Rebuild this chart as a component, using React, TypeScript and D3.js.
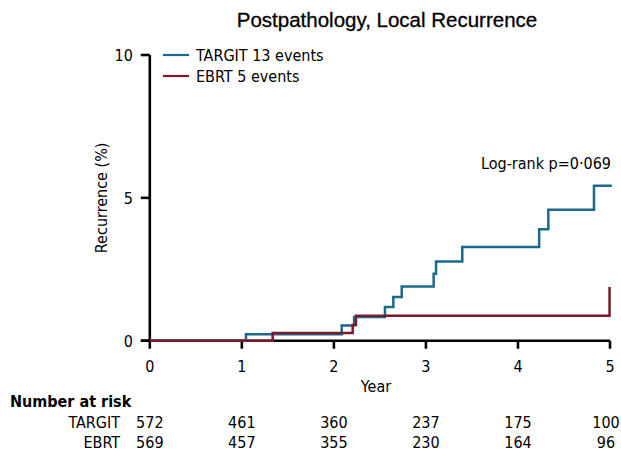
import React from "react";
import * as d3 from "d3";

// Kaplan-Meier steps (year, cumulative recurrence %)
const targitTimes = [0, 1.045, 2.085, 2.22, 2.555, 2.646, 2.737, 3.084, 3.11, 3.395, 4.23, 4.33, 4.826, 5.02];
const targitValues = [0, 0.23, 0.53, 0.83, 1.18, 1.53, 1.9, 2.34, 2.77, 3.28, 3.9, 4.58, 5.42, 5.42];
const ebrtTimes = [0, 1.335, 2.204, 2.24, 4.995];
const ebrtValues = [0, 0.27, 0.55, 0.87, 1.88];

const xTicks = [0, 1, 2, 3, 4, 5];
const yTicks = [0, 5, 10];
const riskTargit = [572, 461, 360, 237, 175, 100];
const riskEbrt = [569, 457, 355, 230, 164, 96];

const legendItems = [
  { label: "TARGIT 13 events", color: "#1b6a8e" },
  { label: "EBRT 5 events", color: "#7a1b2b" },
];

const narrow = "'DejaVu Sans Condensed', 'DejaVu Sans', sans-serif";

export default function App() {
  const width = 621,
    height = 451;
  const x = d3.scaleLinear().domain([0, 5]).range([149.8, 610]);
  const y = d3.scaleLinear().domain([0, 10]).range([340.7, 55]);

  const line = d3
    .line<[number, number]>()
    .x((d) => x(d[0]))
    .y((d) => y(d[1]))
    .curve(d3.curveStepAfter);

  const targitPts: [number, number][] = targitTimes.map((t, i) => [t, targitValues[i]]);
  const ebrtPts: [number, number][] = ebrtTimes.map((t, i) => [t, ebrtValues[i]]);

  const txt = { fontFamily: narrow, fontSize: 16 };

  return (
    <svg
      width={width}
      height={height}
      style={{ position: "absolute", left: 0, top: 0, background: "#fff" }}
    >
      <text
        x={387}
        y={27}
        textAnchor="middle"
        fontFamily="'Liberation Sans', Arial, sans-serif"
        fontSize={20.5}
        fill="#000"
        stroke="#000"
        strokeWidth={0.3}
      >
        Postpathology, Local Recurrence
      </text>

      {/* axes */}
      <g stroke="#000" strokeWidth={2.6} fill="none">
        <line x1={x(0)} x2={x(0)} y1={y(10)} y2={y(0)} />
        <line x1={x(0) - 9} x2={x(5)} y1={y(0)} y2={y(0)} />
        {yTicks.map((t) => (
          <line key={t} x1={x(0) - 9} x2={x(0)} y1={y(t)} y2={y(t)} />
        ))}
        {xTicks.map((t) => (
          <line key={t} x1={x(t)} x2={x(t)} y1={y(0)} y2={y(0) + 8} />
        ))}
      </g>
      <g style={txt} fill="#000">
        {yTicks.map((t) => (
          <text key={t} x={x(0) - 17} y={y(t) + 6} textAnchor="end">
            {t}
          </text>
        ))}
        {xTicks.map((t) => (
          <text key={t} x={x(t)} y={y(0) + 31} textAnchor="middle">
            {t}
          </text>
        ))}
        <text x={376} y={392} textAnchor="middle">
          Year
        </text>
        <text transform={`translate(${107},${y(5)}) rotate(-90)`} textAnchor="middle">
          Recurrence (%)
        </text>
        <text x={611} y={169} textAnchor="end">
          Log-rank p=0·069
        </text>
      </g>

      {/* curves */}
      <path d={line(targitPts) || ""} fill="none" stroke={legendItems[0].color} strokeWidth={2.5} />
      <path d={line(ebrtPts) || ""} fill="none" stroke={legendItems[1].color} strokeWidth={2.5} />

      {/* legend */}
      <g style={txt} fill="#000">
        {legendItems.map((d, i) => (
          <g key={d.label} transform={`translate(0,${55 + i * 21})`}>
            <line x1={163} x2={189} y1={0} y2={0} stroke={d.color} strokeWidth={2.2} />
            <text x={196} y={6}>
              {d.label}
            </text>
          </g>
        ))}
      </g>

      {/* number at risk */}
      <g style={txt} fill="#000">
        <text x={10} y={407} fontWeight="bold">
          Number at risk
        </text>
        <text x={120} y={428} textAnchor="end">
          TARGIT
        </text>
        <text x={120} y={448} textAnchor="end">
          EBRT
        </text>
        {riskTargit.map((v, i) => (
          <text key={"t" + i} x={x(xTicks[i]) - (i === 5 ? 4 : 0)} y={428} textAnchor="middle">
            {v}
          </text>
        ))}
        {riskEbrt.map((v, i) => (
          <text key={"e" + i} x={x(xTicks[i]) - (i === 5 ? 4 : 0)} y={448} textAnchor="middle">
            {v}
          </text>
        ))}
      </g>
    </svg>
  );
}
